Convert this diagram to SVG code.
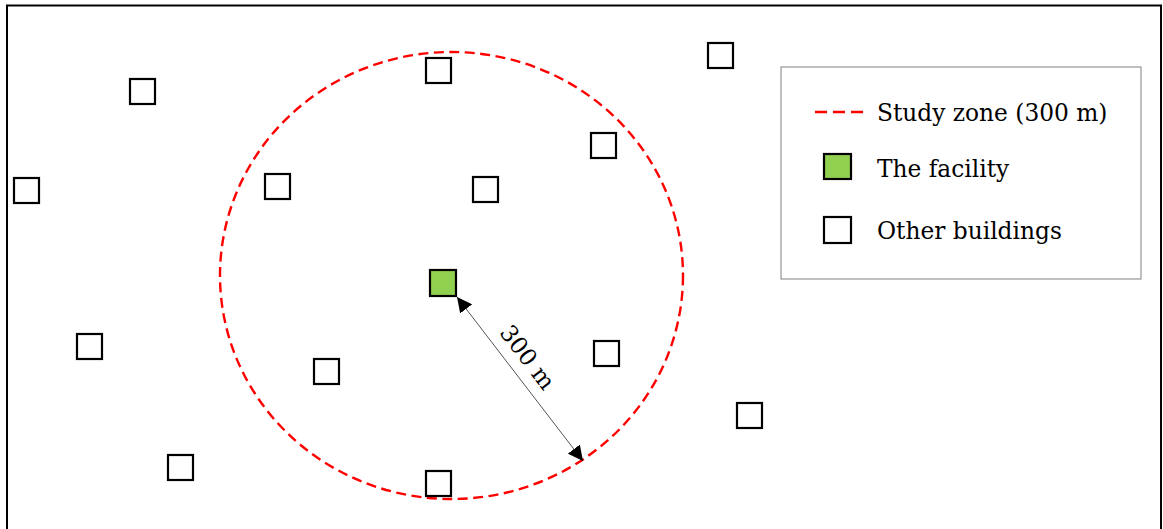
<svg xmlns="http://www.w3.org/2000/svg" width="1163" height="529" viewBox="0 0 1163 529">
<style>
.bld{fill:#ffffff;stroke:#000000;stroke-width:2.2}
.fac{fill:#92d050;stroke:#000000;stroke-width:2.2}
.zone{fill:none;stroke:#ff0000;stroke-width:2.4;stroke-dasharray:10 5.5}
.txt{font-family:"DejaVu Serif","Liberation Serif",serif;font-size:23.3px;fill:#000000}
</style>
<defs>
<marker id="ah" viewBox="0 0 10 10" refX="10" refY="5" markerWidth="15" markerHeight="15" markerUnits="userSpaceOnUse" orient="auto-start-reverse">
<path d="M0,0 L10,5 L0,10 z" fill="#000000"/>
</marker>
</defs>
<rect x="0" y="0" width="1163" height="529" fill="#ffffff"/>
<rect id="frame" x="7" y="5.5" width="1154" height="540" fill="none" stroke="#000000" stroke-width="2"/>
<ellipse id="study-zone" class="zone" cx="451.5" cy="275.5" rx="231.5" ry="223.5"/>
<g id="b1"><rect class="bld" x="130" y="79" width="25" height="25"/></g>
<g id="b2"><rect class="bld" x="426" y="58" width="25" height="25"/></g>
<g id="b3"><rect class="bld" x="708" y="43" width="25" height="25"/></g>
<g id="b4"><rect class="bld" x="591" y="133" width="25" height="25"/></g>
<g id="b5"><rect class="bld" x="14" y="178" width="25" height="25"/></g>
<g id="b6"><rect class="bld" x="265" y="174" width="25" height="25"/></g>
<g id="b7"><rect class="bld" x="473" y="177" width="25" height="25"/></g>
<g id="facility"><rect class="fac" x="430" y="270" width="26" height="26"/></g>
<g id="b9"><rect class="bld" x="77" y="334" width="25" height="25"/></g>
<g id="b10"><rect class="bld" x="314" y="359" width="25" height="25"/></g>
<g id="b11"><rect class="bld" x="594" y="341" width="25" height="25"/></g>
<g id="b12"><rect class="bld" x="737" y="403" width="25" height="25"/></g>
<g id="b13"><rect class="bld" x="168" y="455" width="25" height="25"/></g>
<g id="b14"><rect class="bld" x="426" y="471" width="25" height="25"/></g>
<g id="connectors">
<line x1="457" y1="297" x2="583" y2="461" stroke="#555555" stroke-width="1" marker-start="url(#ah)" marker-end="url(#ah)"/>
</g>
<text class="txt" x="0" y="0" text-anchor="middle" dominant-baseline="central" transform="translate(528,357) rotate(52.5)">300 m</text>
<g id="legend">
<rect x="781" y="67" width="360" height="212" fill="#ffffff" stroke="#808080" stroke-width="1"/>
<line class="zone" x1="815" y1="112" x2="863" y2="112" style="stroke-dasharray:12 6"/>
<text class="txt" x="877" y="121">Study zone (300 m)</text>
<rect class="fac" x="824" y="154" width="27" height="25"/>
<text class="txt" x="877" y="177">The facility</text>
<rect class="bld" x="824" y="217" width="27" height="26"/>
<text class="txt" x="877" y="239">Other buildings</text>
</g>
</svg>
